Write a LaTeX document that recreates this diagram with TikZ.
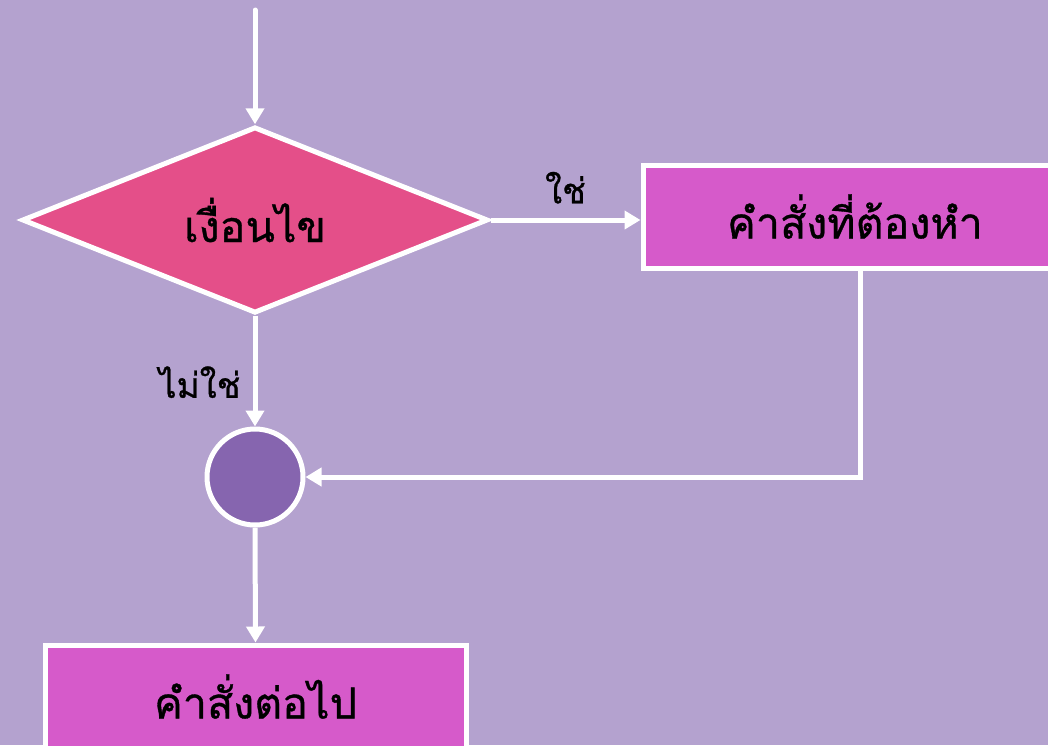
\documentclass[tikz,border=0pt]{standalone}
\usepackage{fontspec}
\newfontfamily\thaifont[Script=Thai,FakeBold=0.8]{Loma}
\usetikzlibrary{shapes.geometric,arrows.meta}
\definecolor{bgc}{HTML}{B4A2CF}
\definecolor{decc}{HTML}{E44F89}
\definecolor{boxc}{HTML}{D65ACA}
\definecolor{circc}{HTML}{8665AF}
\begin{document}
\begin{tikzpicture}[x=1pt,y=-1pt,
  base/.style={draw=white,line width=5pt,inner sep=0pt,font=\thaifont\fontsize{43}{47}\selectfont,text=black},
  decbox/.style={base,diamond,fill=decc,minimum width=466pt,minimum height=178pt},
  actbox/.style={base,rectangle,fill=boxc,minimum height=103pt},
  joinc/.style={base,circle,fill=circc,minimum size=96pt},
  lbl/.style={font=\thaifont\fontsize{35}{39}\selectfont,text=black,inner sep=0pt},
  conn/.style={draw=white,line width=5pt,-{Triangle[width=18pt,length=16pt]}}]
\useasboundingbox (0,0) rectangle (1048,745);
\clip (0,0) rectangle (1048,745);
\fill[bgc] (0,0) rectangle (1048,745);
\coordinate (start) at (255,10);
\node[decbox] (dec) at (255,220) {เงื่อนไข};
\node[actbox,minimum width=424pt] (yes) at (855,216.5) {คำสั่งที่ต้องหำ};
\node[joinc] (circ) at (255,477) {};
\node[actbox,minimum width=421pt] (bot) at (255.5,696.5) {คำสั่งต่อไป};
\coordinate (turn) at (860,477);
\draw[conn,line cap=round] (start) -- (dec.north);
\draw[conn] (dec.east) -- (dec.east -| yes.west) node[lbl,pos=0.5,above=14pt] (lyes) {ใช่};
\draw[conn] (dec.south) -- (circ.north) node[lbl,pos=0.6,left=12pt] (lno) {ไม่ใช่};
\draw[conn] (yes.south -| turn) -- (turn) -- (circ.east);
\draw[conn] (circ.south) -- (bot.north);
\end{tikzpicture}
\end{document}
